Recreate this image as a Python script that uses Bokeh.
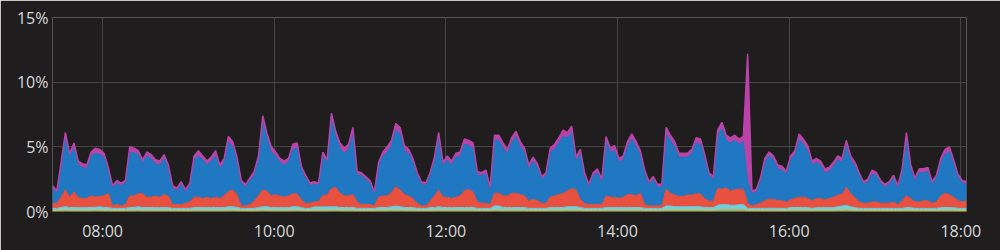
import numpy as np
import pandas as pd
from bokeh.plotting import figure
from bokeh.models import ColumnDataSource, Range1d, FixedTicker, DatetimeTickFormatter, CustomJSTickFormatter
from bokeh.transform import stack
from bokeh.embed import file_html
from bokeh.resources import INLINE

# time axis: one sample every 3 minutes starting 07:25
START = "2018-06-01 07:25"
STEP = "3min"
DAY = "2018-06-01 "
X_TICK_LABELS = ["08:00", "10:00", "12:00", "14:00", "16:00", "18:00"]
Y_TICKS = [0, 5, 10, 15]

# total stacked height (%)
total = [
    2.0, 1.6, 3.8, 6.1, 4.5, 5.3, 3.9, 3.7, 3.6, 4.6, 4.9, 4.8, 4.5, 3.4, 2.0, 2.4, 2.2, 2.4, 5.0, 4.9, 4.7, 4.0, 4.6, 4.4, 4.0, 3.9, 4.4, 3.6, 2.0, 1.8, 2.3,
    1.7, 2.2, 4.3, 4.7, 4.3, 3.9, 4.2, 4.7, 3.6, 4.1, 5.8, 5.4, 4.2, 2.4, 2.1, 2.6, 3.1, 4.3, 7.4, 6.0, 5.0, 4.6, 4.1, 3.9, 4.1, 5.2, 5.3, 3.5, 2.8, 2.2,
    2.3, 2.2, 4.6, 4.0, 7.6, 6.2, 5.3, 4.9, 5.2, 6.5, 3.1, 3.0, 2.7, 2.4, 1.5, 3.8, 4.6, 5.0, 5.5, 6.8, 6.5, 5.1, 4.8, 4.1, 3.0, 2.3, 2.2, 3.0, 4.2, 6.1, 3.8,
    4.3, 3.9, 4.5, 4.6, 5.6, 5.5, 5.3, 3.1, 3.0, 3.2, 1.9, 5.9, 5.9, 5.3, 4.8, 5.7, 6.2, 5.4, 4.9, 3.6, 4.2, 3.7, 2.7, 3.0, 4.9, 5.2, 5.7, 6.3, 6.1, 6.6,
    4.2, 4.8, 3.0, 2.1, 3.0, 3.3, 2.5, 5.8, 4.9, 5.1, 4.1, 4.3, 5.4, 6.0, 5.4, 4.7, 3.2, 2.3, 2.7, 2.1, 2.1, 6.5, 5.9, 5.4, 4.5, 4.5, 4.5, 4.8, 5.7, 5.6,
    4.4, 3.0, 2.7, 6.3, 6.9, 5.9, 5.7, 5.9, 5.6, 5.8, 12.2, 1.6, 1.7, 2.6, 4.1, 4.6, 4.3, 3.6, 3.5, 3.1, 4.3, 4.7, 6.0, 5.6, 5.1, 3.9, 4.1, 3.9, 3.3, 3.4, 3.8,
    4.3, 4.1, 5.5, 4.3, 3.8, 3.0, 2.3, 2.5, 3.2, 3.0, 2.4, 2.1, 2.3, 2.8, 2.0, 3.3, 6.1, 3.6, 2.6, 3.3, 3.3, 3.4, 2.3, 2.8, 4.1, 4.8, 5.0, 4.0, 2.9, 2.4, 2.3,
]

green = [
    0.05, 0.05, 0.06, 0.07, 0.06, 0.06, 0.06, 0.06, 0.06, 0.06, 0.07, 0.07, 0.06, 0.06, 0.05, 0.05, 0.05, 0.05, 0.06, 0.06, 0.07, 0.06, 0.06, 0.06, 0.06, 0.06, 0.06, 0.06, 0.05, 0.05, 0.05,
    0.05, 0.05, 0.06, 0.06, 0.06, 0.06, 0.06, 0.06, 0.06, 0.06, 0.07, 0.07, 0.06, 0.05, 0.05, 0.05, 0.05, 0.06, 0.07, 0.07, 0.06, 0.06, 0.06, 0.06, 0.06, 0.07, 0.07, 0.06, 0.05, 0.05,
    0.06, 0.06, 0.06, 0.06, 0.07, 0.07, 0.06, 0.06, 0.06, 0.06, 0.05, 0.05, 0.05, 0.05, 0.05, 0.06, 0.06, 0.06, 0.07, 0.07, 0.07, 0.06, 0.06, 0.06, 0.05, 0.05, 0.05, 0.06, 0.06, 0.07, 0.06,
    0.06, 0.06, 0.06, 0.06, 0.06, 0.06, 0.06, 0.05, 0.05, 0.05, 0.05, 0.07, 0.07, 0.06, 0.06, 0.06, 0.06, 0.06, 0.06, 0.05, 0.05, 0.05, 0.05, 0.05, 0.06, 0.06, 0.06, 0.06, 0.07, 0.07,
    0.07, 0.06, 0.05, 0.05, 0.05, 0.05, 0.05, 0.06, 0.06, 0.06, 0.06, 0.06, 0.06, 0.06, 0.06, 0.06, 0.05, 0.05, 0.05, 0.05, 0.05, 0.07, 0.07, 0.07, 0.07, 0.07, 0.07, 0.07, 0.07, 0.07,
    0.06, 0.06, 0.06, 0.08, 0.08, 0.08, 0.08, 0.08, 0.08, 0.08, 0.05, 0.05, 0.05, 0.05, 0.05, 0.05, 0.05, 0.05, 0.05, 0.05, 0.06, 0.06, 0.06, 0.06, 0.06, 0.05, 0.06, 0.06, 0.06, 0.06, 0.06,
    0.07, 0.07, 0.08, 0.07, 0.06, 0.05, 0.05, 0.05, 0.05, 0.05, 0.05, 0.05, 0.05, 0.05, 0.05, 0.05, 0.06, 0.06, 0.05, 0.05, 0.05, 0.05, 0.05, 0.05, 0.06, 0.06, 0.06, 0.06, 0.05, 0.05, 0.05,
]

yellow = [
    0.04, 0.04, 0.05, 0.05, 0.05, 0.05, 0.04, 0.04, 0.04, 0.05, 0.05, 0.05, 0.05, 0.04, 0.04, 0.04, 0.04, 0.04, 0.05, 0.05, 0.05, 0.04, 0.05, 0.05, 0.04, 0.04, 0.05, 0.04, 0.04, 0.04, 0.04,
    0.04, 0.04, 0.05, 0.05, 0.05, 0.04, 0.04, 0.05, 0.04, 0.05, 0.05, 0.05, 0.05, 0.04, 0.04, 0.04, 0.04, 0.05, 0.05, 0.05, 0.05, 0.05, 0.04, 0.04, 0.05, 0.05, 0.05, 0.04, 0.04, 0.04,
    0.04, 0.04, 0.05, 0.05, 0.05, 0.05, 0.05, 0.05, 0.05, 0.05, 0.04, 0.04, 0.04, 0.04, 0.04, 0.05, 0.05, 0.05, 0.05, 0.05, 0.05, 0.05, 0.05, 0.04, 0.04, 0.04, 0.04, 0.04, 0.05, 0.05, 0.05,
    0.05, 0.04, 0.05, 0.05, 0.05, 0.05, 0.05, 0.04, 0.04, 0.04, 0.04, 0.05, 0.05, 0.05, 0.05, 0.05, 0.05, 0.05, 0.05, 0.04, 0.04, 0.04, 0.04, 0.04, 0.05, 0.05, 0.05, 0.05, 0.05, 0.05,
    0.05, 0.05, 0.04, 0.04, 0.04, 0.04, 0.04, 0.05, 0.05, 0.05, 0.04, 0.05, 0.05, 0.05, 0.05, 0.05, 0.04, 0.04, 0.04, 0.04, 0.04, 0.05, 0.05, 0.05, 0.05, 0.05, 0.05, 0.05, 0.05, 0.05,
    0.05, 0.04, 0.04, 0.05, 0.05, 0.05, 0.05, 0.05, 0.05, 0.05, 0.04, 0.04, 0.04, 0.04, 0.04, 0.05, 0.05, 0.04, 0.04, 0.04, 0.05, 0.05, 0.05, 0.05, 0.05, 0.04, 0.04, 0.04, 0.04, 0.04, 0.04,
    0.05, 0.05, 0.05, 0.05, 0.04, 0.04, 0.04, 0.04, 0.04, 0.04, 0.04, 0.04, 0.04, 0.04, 0.04, 0.04, 0.05, 0.04, 0.04, 0.04, 0.04, 0.04, 0.04, 0.04, 0.04, 0.05, 0.05, 0.04, 0.04, 0.04, 0.04,
]

teal = [
    0.15, 0.15, 0.2, 0.25, 0.2, 0.2, 0.2, 0.2, 0.2, 0.2, 0.2, 0.25, 0.2, 0.2, 0.15, 0.15, 0.15, 0.15, 0.2, 0.2, 0.25, 0.2, 0.2, 0.2, 0.2, 0.2, 0.2, 0.2, 0.15, 0.15, 0.15,
    0.15, 0.15, 0.2, 0.2, 0.2, 0.2, 0.2, 0.2, 0.2, 0.2, 0.25, 0.25, 0.2, 0.15, 0.15, 0.15, 0.15, 0.2, 0.25, 0.25, 0.2, 0.2, 0.2, 0.2, 0.2, 0.25, 0.25, 0.2, 0.15, 0.15,
    0.25, 0.25, 0.25, 0.25, 0.25, 0.25, 0.2, 0.2, 0.2, 0.2, 0.15, 0.15, 0.15, 0.15, 0.15, 0.2, 0.2, 0.2, 0.25, 0.3, 0.25, 0.2, 0.2, 0.2, 0.15, 0.15, 0.15, 0.2, 0.2, 0.25, 0.2,
    0.2, 0.2, 0.2, 0.2, 0.2, 0.2, 0.2, 0.15, 0.15, 0.15, 0.15, 0.3, 0.3, 0.2, 0.2, 0.2, 0.2, 0.2, 0.2, 0.15, 0.15, 0.15, 0.15, 0.15, 0.2, 0.2, 0.2, 0.2, 0.25, 0.25,
    0.25, 0.2, 0.15, 0.15, 0.15, 0.15, 0.15, 0.2, 0.2, 0.2, 0.2, 0.2, 0.2, 0.2, 0.2, 0.2, 0.15, 0.15, 0.15, 0.15, 0.15, 0.3, 0.3, 0.25, 0.25, 0.25, 0.25, 0.25, 0.25, 0.25,
    0.2, 0.2, 0.2, 0.35, 0.4, 0.4, 0.35, 0.35, 0.4, 0.4, 0.15, 0.15, 0.15, 0.15, 0.15, 0.15, 0.15, 0.15, 0.15, 0.15, 0.2, 0.2, 0.2, 0.2, 0.2, 0.15, 0.2, 0.2, 0.2, 0.2, 0.2,
    0.25, 0.3, 0.35, 0.25, 0.2, 0.15, 0.15, 0.15, 0.15, 0.15, 0.15, 0.15, 0.15, 0.15, 0.15, 0.15, 0.2, 0.2, 0.15, 0.15, 0.15, 0.15, 0.15, 0.15, 0.2, 0.2, 0.2, 0.2, 0.15, 0.15, 0.15,
]

red = [
    0.4, 0.4, 0.8, 1.3, 0.8, 1.2, 0.8, 0.7, 0.7, 0.9, 0.8, 0.8, 0.9, 1.1, 0.2, 0.3, 0.2, 0.3, 0.9, 0.9, 1.0, 1.1, 0.8, 0.8, 0.9, 0.8, 1.0, 0.9, 0.3, 0.3, 0.3,
    0.4, 0.5, 0.8, 0.8, 0.7, 0.8, 0.7, 0.8, 0.7, 0.9, 1.2, 1.3, 1.0, 0.2, 0.2, 0.3, 0.6, 0.9, 1.3, 1.2, 0.9, 1.0, 0.9, 0.8, 0.9, 1.0, 1.0, 0.6, 0.4, 0.4,
    0.4, 0.4, 0.9, 0.9, 1.4, 1.5, 1.1, 0.9, 0.9, 1.0, 0.5, 0.3, 0.3, 0.3, 0.2, 0.8, 0.9, 0.9, 1.1, 1.5, 1.3, 1.0, 0.9, 0.7, 0.4, 0.2, 0.2, 0.5, 0.9, 1.3, 0.8,
    0.8, 0.7, 0.8, 0.9, 1.3, 1.4, 1.2, 0.5, 0.4, 0.4, 0.3, 1.0, 1.0, 0.9, 0.9, 1.1, 1.1, 1.0, 0.9, 0.6, 0.7, 0.6, 0.4, 0.4, 0.8, 0.9, 1.0, 1.1, 1.2, 1.4,
    1.3, 0.6, 0.4, 0.3, 0.3, 0.3, 0.3, 0.9, 0.8, 0.8, 0.7, 0.8, 1.0, 1.0, 0.9, 1.1, 0.3, 0.2, 0.2, 0.2, 0.2, 1.3, 1.0, 0.9, 0.8, 0.8, 0.9, 0.9, 1.0, 1.0,
    0.7, 0.5, 0.5, 1.3, 1.2, 1.3, 1.1, 1.2, 1.2, 1.2, 0.4, 0.2, 0.3, 0.4, 0.6, 0.7, 0.7, 0.6, 0.6, 0.5, 0.6, 0.7, 0.8, 0.8, 0.7, 0.6, 0.7, 0.7, 0.6, 0.7, 0.8,
    0.9, 0.9, 1.4, 1.0, 0.8, 0.5, 0.4, 0.4, 0.5, 0.5, 0.4, 0.4, 0.4, 0.5, 0.3, 0.6, 0.9, 0.7, 0.5, 0.5, 0.6, 0.6, 0.4, 0.5, 0.9, 1.1, 1.0, 0.8, 0.6, 0.5, 0.6,
]

purple = [
    0.2, 0.2, 0.3, 0.5, 0.3, 0.4, 0.3, 0.3, 0.3, 0.3, 0.4, 0.4, 0.3, 0.3, 0.2, 0.2, 0.2, 0.2, 0.4, 0.4, 0.3, 0.3, 0.3, 0.3, 0.3, 0.3, 0.3, 0.3, 0.2, 0.2, 0.2,
    0.2, 0.2, 0.3, 0.4, 0.3, 0.3, 0.3, 0.4, 0.3, 0.3, 0.4, 0.4, 0.3, 0.2, 0.2, 0.2, 0.3, 0.3, 0.5, 0.4, 0.4, 0.3, 0.3, 0.3, 0.3, 0.4, 0.4, 0.3, 0.2, 0.2,
    0.2, 0.2, 0.3, 0.3, 0.5, 0.4, 0.4, 0.4, 0.4, 0.5, 0.3, 0.2, 0.2, 0.2, 0.2, 0.3, 0.3, 0.4, 0.4, 0.5, 0.5, 0.4, 0.3, 0.3, 0.2, 0.2, 0.2, 0.2, 0.3, 0.4, 0.3,
    0.3, 0.3, 0.3, 0.3, 0.4, 0.4, 0.4, 0.3, 0.2, 0.3, 0.2, 0.4, 0.4, 0.4, 0.3, 0.4, 0.4, 0.4, 0.3, 0.3, 0.3, 0.3, 0.2, 0.2, 0.3, 0.4, 0.4, 0.5, 0.4, 0.5,
    0.3, 0.3, 0.2, 0.2, 0.2, 0.3, 0.2, 0.4, 0.3, 0.4, 0.3, 0.3, 0.4, 0.4, 0.4, 0.3, 0.3, 0.2, 0.2, 0.2, 0.2, 0.5, 0.4, 0.4, 0.3, 0.3, 0.3, 0.3, 0.4, 0.4,
    0.3, 0.2, 0.2, 0.4, 0.5, 0.4, 0.4, 0.4, 0.4, 0.4, 9.9, 0.2, 0.2, 0.2, 0.3, 0.3, 0.3, 0.3, 0.3, 0.2, 0.3, 0.3, 0.4, 0.4, 0.4, 0.3, 0.3, 0.3, 0.3, 0.3, 0.3,
    0.3, 0.3, 0.4, 0.3, 0.3, 0.2, 0.2, 0.2, 0.3, 0.2, 0.2, 0.2, 0.2, 0.2, 0.2, 0.3, 0.5, 0.3, 0.2, 0.3, 0.3, 0.3, 0.2, 0.2, 0.3, 0.4, 0.4, 0.3, 0.2, 0.2, 0.2,
]

n = len(total)
for nm, arr in [("green", green), ("yellow", yellow), ("teal", teal), ("red", red), ("purple", purple)]:
    assert len(arr) == n, (nm, len(arr), n)

t = pd.date_range(START, periods=n, freq=STEP)
blue = (np.array(total) - np.array(green) - np.array(yellow) - np.array(teal)
        - np.array(red) - np.array(purple))

BG = "#1f1d1e"
GRID = "#444444"
LABEL = "#d8d9da"
names = ["green", "yellow", "teal", "red", "blue", "purple"]
colors = ["#7eb26d", "#eab839", "#6ed0e0", "#e8513f", "#1f78c1", "#ba43a9"]

source = ColumnDataSource(dict(t=t, green=green, yellow=yellow, teal=teal,
                               red=red, blue=blue, purple=purple))

p = figure(width=1000, height=250, x_axis_type="datetime",
           output_backend="svg", toolbar_location=None,
           x_range=Range1d(t[0], t[-1]), y_range=Range1d(0, 15),
           min_border_left=52, min_border_right=34, min_border_top=17, min_border_bottom=39,
           background_fill_color=BG, border_fill_color=BG, outline_line_color=None)

p.varea_stack(stackers=names, x="t", color=colors, source=source)
for i, c in enumerate(colors):
    p.line(x="t", y=stack(*names[:i + 1]), color=c,
           line_width=1.5 if i == len(colors) - 1 else 1, source=source)

xticks = [pd.Timestamp(DAY + s).value / 1e6 for s in X_TICK_LABELS]
p.xaxis.ticker = FixedTicker(ticks=xticks)
p.xgrid.ticker = FixedTicker(ticks=xticks)
p.xaxis.formatter = DatetimeTickFormatter(hours="%H:%M", hourmin="%H:%M", minutes="%H:%M", days="%H:%M")
p.yaxis.ticker = FixedTicker(ticks=Y_TICKS)
p.ygrid.ticker = FixedTicker(ticks=Y_TICKS)
p.yaxis.formatter = CustomJSTickFormatter(code="return tick + '%';")

for ax in (p.xaxis, p.yaxis):
    ax.axis_line_color = None
    ax.major_tick_line_color = None
    ax.minor_tick_line_color = None
    ax.major_tick_out = 0
    ax.major_tick_in = 0
    ax.major_label_text_color = LABEL
    ax.major_label_text_font = "Open Sans"
    ax.major_label_text_font_size = "16px"
p.yaxis.major_label_standoff = 4
p.xaxis.major_label_standoff = 8

for g in (p.xgrid, p.ygrid):
    g.grid_line_color = GRID
    g.grid_line_width = 1

open("out.html", "w").write(file_html(p, INLINE))
